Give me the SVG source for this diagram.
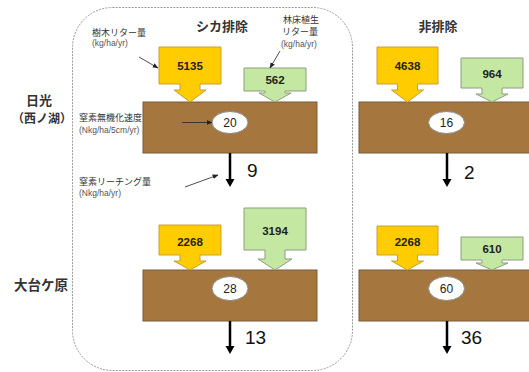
<svg xmlns="http://www.w3.org/2000/svg" width="529" height="372" viewBox="0 0 529 372">
<defs>
<style>
.bg{fill:#ffffff}
.frame{fill:none;stroke:#9a9a9a;stroke-width:1;stroke-dasharray:2,1.2}
.soil{fill:#A6763F;stroke:#7a5a38;stroke-width:1}
.tree{fill:#FFCC00;stroke:#c8a030;stroke-width:1}
.floor{fill:#C4E8A2;stroke:#8e9c80;stroke-width:1}
.ell{fill:#ffffff;stroke:#8a8a8a;stroke-width:1}
.lbl{font-family:"Noto Sans CJK JP","Liberation Sans",sans-serif;font-size:9px;fill:#333}
.unit{font-family:"Liberation Sans","Noto Sans CJK JP",sans-serif;font-size:8.5px;fill:#555}
.head{font-family:"Noto Sans CJK JP",sans-serif;font-size:13px;font-weight:bold;fill:#333}
.site{font-family:"Noto Sans CJK JP",sans-serif;font-weight:bold;fill:#333}
.val{font-family:"Liberation Sans",sans-serif;font-size:11.5px;font-weight:bold;fill:#222;text-anchor:middle}
.eval{font-family:"Liberation Sans",sans-serif;font-size:12px;fill:#222;text-anchor:middle}
.big{font-family:"Liberation Sans",sans-serif;font-size:19px;fill:#111}
.ptr{stroke:#222;stroke-width:0.8;fill:none}
.leach{stroke:#000;stroke-width:2.5;fill:none}
</style>
<marker id="ah" viewBox="0 0 10 10" refX="9" refY="5" markerWidth="6" markerHeight="6" markerUnits="userSpaceOnUse" orient="auto">
<path d="M0,1 L10,5 L0,9 Z" fill="#222"/>
</marker>
</defs>
<rect class="bg" x="0" y="0" width="529" height="372"/>
<rect id="frame" class="frame" x="72.5" y="7.5" width="280" height="363" rx="40" ry="40"/>

<g id="titles">
<text class="head" x="222" y="31" text-anchor="middle">シカ排除</text>
<text class="head" x="438" y="31" text-anchor="middle">非排除</text>
</g>
<g id="site-nikko">
<text class="site" x="39" y="105" font-size="13" text-anchor="middle">日光</text>
<text class="site" x="42" y="123" font-size="12" text-anchor="middle">（西ノ湖）</text>
</g>
<g id="site-odaigahara">
<text class="site" x="41" y="290" font-size="13.5" text-anchor="middle">大台ケ原</text>
</g>

<g id="labels">
<text class="lbl" x="92" y="36">樹木リター量</text>
<text class="unit" x="92" y="46">(kg/ha/yr)</text>
<text class="lbl" x="283" y="23" font-size="8">林床植生</text>
<text class="lbl" x="282" y="35" font-size="8">リター量</text>
<text class="unit" x="281" y="47" font-size="8">(kg/ha/yr)</text>
<text class="lbl" x="79" y="121">窒素無機化速度</text>
<text class="unit" x="79" y="133">(Nkg/ha/5cm/yr)</text>
<text class="lbl" x="79" y="185">窒素リーチング量</text>
<text class="unit" x="79" y="196">(Nkg/ha/yr)</text>
</g>

<g id="soil-n1"><rect class="soil" x="143" y="102" width="174" height="51"/></g>
<g id="soil-n2"><rect class="soil" x="359" y="102" width="180" height="51"/></g>
<g id="soil-o1"><rect class="soil" x="143" y="270" width="174" height="51"/></g>
<g id="soil-o2"><rect class="soil" x="359" y="270" width="180" height="51"/></g>

<g id="tree-n1">
<path class="tree" d="M159,47 H221 V84 H200 V90 H206 L190,102 L174,90 H180 V84 H159 Z"/>
<text class="val" x="190" y="70">5135</text>
</g>
<g id="floor-n1">
<path class="floor" d="M244,68 H306 V91 H285 V93 H291 L275,102 L259,93 H265 V91 H244 Z"/>
<text class="val" x="275" y="84">562</text>
</g>
<g id="tree-n2">
<path class="tree" d="M377,47 H438 V84 H417.5 V90 H423.5 L407.5,102 L391.5,90 H397.5 V84 H377 Z"/>
<text class="val" x="407.5" y="70">4638</text>
</g>
<g id="floor-n2">
<path class="floor" d="M461,58 H523 V88 H502 V94 H508 L492,102 L476,94 H482 V88 H461 Z"/>
<text class="val" x="492" y="78">964</text>
</g>
<g id="tree-o1">
<path class="tree" d="M159,225 H221 V255 H200 V261 H206 L190,270 L174,261 H180 V255 H159 Z"/>
<text class="val" x="190" y="246">2268</text>
</g>
<g id="floor-o1">
<path class="floor" d="M244,208 H306 V250 H285 V259 H292 L275,270 L258,259 H265 V250 H244 Z"/>
<text class="val" x="275" y="235">3194</text>
</g>
<g id="tree-o2">
<path class="tree" d="M377,226 H438 V255 H417.5 V261 H423.5 L407.5,270 L391.5,261 H397.5 V255 H377 Z"/>
<text class="val" x="407.5" y="246">2268</text>
</g>
<g id="floor-o2">
<path class="floor" d="M461,237 H523 V260 H502 V263 H508 L492,270 L476,263 H482 V260 H461 Z"/>
<text class="val" x="492" y="253">610</text>
</g>

<g id="min-n1"><ellipse class="ell" cx="230" cy="122.5" rx="18" ry="11"/><text class="eval" x="230" y="127">20</text></g>
<g id="min-n2"><ellipse class="ell" cx="446.5" cy="122.5" rx="18" ry="11"/><text class="eval" x="446.5" y="127">16</text></g>
<g id="min-o1"><ellipse class="ell" cx="230" cy="288.5" rx="18" ry="12"/><text class="eval" x="230" y="293">28</text></g>
<g id="min-o2"><ellipse class="ell" cx="446.5" cy="288.5" rx="18" ry="12"/><text class="eval" x="446.5" y="293">60</text></g>

<g id="connectors">
<line class="ptr" x1="139" y1="57" x2="158" y2="68" marker-end="url(#ah)"/>
<line class="ptr" x1="280" y1="51" x2="270" y2="68" marker-end="url(#ah)"/>
<line class="ptr" x1="182" y1="122.5" x2="212" y2="122.5" marker-end="url(#ah)"/>
<line class="ptr" x1="185" y1="187" x2="218" y2="175" marker-end="url(#ah)"/>
<line class="leach" x1="230" y1="153" x2="230" y2="180"/>
<path d="M225.5,179 L234.5,179 L230,187 Z" fill="#000"/>
<line class="leach" x1="447" y1="153" x2="447" y2="180"/>
<path d="M442.5,179 L451.5,179 L447,187 Z" fill="#000"/>
<line class="leach" x1="230" y1="321" x2="230" y2="347"/>
<path d="M225.5,346 L234.5,346 L230,354 Z" fill="#000"/>
<line class="leach" x1="447" y1="321" x2="447" y2="347"/>
<path d="M442.5,346 L451.5,346 L447,354 Z" fill="#000"/>
</g>

<g id="leach-values">
<text class="big" x="247" y="177">9</text>
<text class="big" x="464" y="179">2</text>
<text class="big" x="245" y="344">13</text>
<text class="big" x="461" y="344">36</text>
</g>
</svg>
